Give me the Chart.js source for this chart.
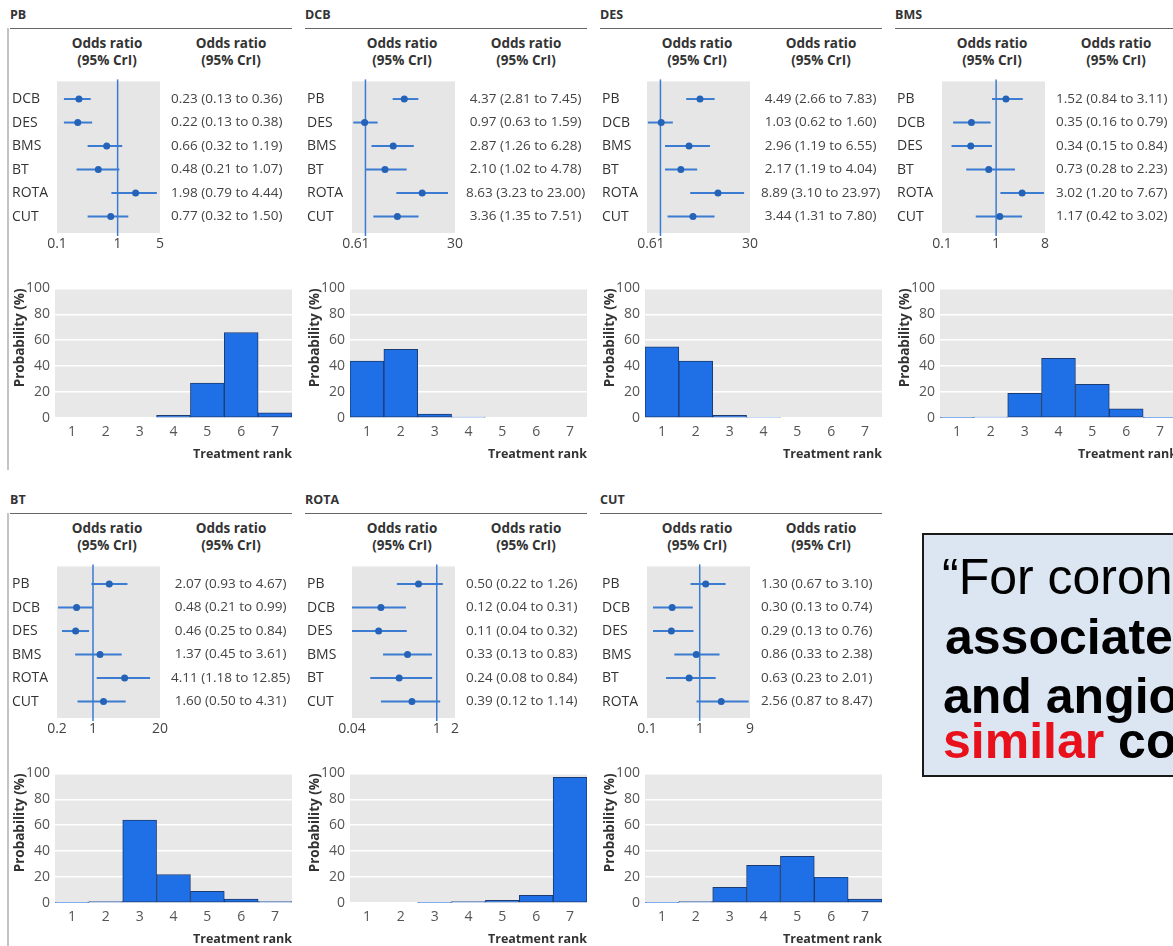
<!DOCTYPE html>
<html lang="en">
<head>
<meta charset="UTF-8">
<title>Odds ratios and rank probabilities</title>
<script src="https://cdn.jsdelivr.net/npm/chart.js"></script>
<style>
  html, body { margin: 0; padding: 0; background: #fff; overflow: hidden; }
  body { width: 1173px; height: 946px; position: relative; font-family: "Open Sans", sans-serif; color: #333; }
  .title { position: absolute; font-weight: 700; font-size: 12.5px; line-height: 17px; color: #333; }
  .rule { position: absolute; width: 282px; height: 0; border-top: 1.5px solid #666; }
  .head { position: absolute; width: 130px; text-align: center; font-weight: 700; font-size: 13.5px; line-height: 17px; color: #333; }
  .edge { position: absolute; left: 7px; width: 0; border-left: 2px solid #c4c4c4; }
  canvas { position: absolute; }
  .box { position: absolute; left: 922px; top: 533px; width: 400px; height: 240px; background: #dce6f2; border: 2px solid #1a1a1a; }
  .quote { position: absolute; left: 942px; white-space: nowrap; font-family: "Liberation Sans", Arial, sans-serif; font-size: 50px; line-height: 50px; color: #000; }
  .quote b { font-weight: 700; }
  .red { color: #e8101a; }
</style>
</head>
<body>
<div class="edge" style="top:28px;height:442px"></div>
<div class="edge" style="top:513px;height:433px"></div>

<div class="box"></div>
<div class="quote" style="top:552px">“For coronary</div>
<div class="quote" style="top:612px;left:945px"><b>associated</b></div>
<div class="quote" style="top:671px;left:943px"><b>and angiographic</b></div>
<div class="quote" style="top:716px;left:943px"><b><span class="red">similar</span> co</b></div>

<script>
// treatments, in panel order
const treatments = ['PB', 'DCB', 'DES', 'BMS', 'BT', 'ROTA', 'CUT'];
const rankLabels = ['1', '2', '3', '4', '5', '6', '7'];

// PB vs others
const pbRows = ['DCB', 'DES', 'BMS', 'BT', 'ROTA', 'CUT'];
const pbOR = [0.23, 0.22, 0.66, 0.48, 1.98, 0.77];
const pbLo = [0.13, 0.13, 0.32, 0.21, 0.79, 0.32];
const pbHi = [0.36, 0.38, 1.19, 1.07, 4.44, 1.50];
const pbAxis = [0.1, 1, 5];
const pbRank = [0, 0, 0, 2, 27, 66, 4];

// DCB
const dcbRows = ['PB', 'DES', 'BMS', 'BT', 'ROTA', 'CUT'];
const dcbOR = [4.37, 0.97, 2.87, 2.10, 8.63, 3.36];
const dcbLo = [2.81, 0.63, 1.26, 1.02, 3.23, 1.35];
const dcbHi = [7.45, 1.59, 6.28, 4.78, 23.00, 7.51];
const dcbAxis = [0.6, 1, 30];
const dcbRank = [44, 53, 3, 0.8, 0, 0, 0];

// DES
const desRows = ['PB', 'DCB', 'BMS', 'BT', 'ROTA', 'CUT'];
const desOR = [4.49, 1.03, 2.96, 2.17, 8.89, 3.44];
const desLo = [2.66, 0.62, 1.19, 1.19, 3.10, 1.31];
const desHi = [7.83, 1.60, 6.55, 4.04, 23.97, 7.80];
const desAxis = [0.6, 1, 30];
const desRank = [55, 44, 2, 0.6, 0, 0, 0];

// BMS
const bmsRows = ['PB', 'DCB', 'DES', 'BT', 'ROTA', 'CUT'];
const bmsOR = [1.52, 0.35, 0.34, 0.73, 3.02, 1.17];
const bmsLo = [0.84, 0.16, 0.15, 0.28, 1.20, 0.42];
const bmsHi = [3.11, 0.79, 0.84, 2.23, 7.67, 3.02];
const bmsAxis = [0.1, 1, 8];
const bmsRank = [0.4, 0.8, 19, 46, 26, 7, 0.5];

// BT
const btRows = ['PB', 'DCB', 'DES', 'BMS', 'ROTA', 'CUT'];
const btOR = [2.07, 0.48, 0.46, 1.37, 4.11, 1.60];
const btLo = [0.93, 0.21, 0.25, 0.45, 1.18, 0.50];
const btHi = [4.67, 0.99, 0.84, 3.61, 12.85, 4.31];
const btAxis = [0.2, 1, 20];
const btRank = [0.4, 1, 64, 22, 9, 3, 1];

// ROTA
const rotaRows = ['PB', 'DCB', 'DES', 'BMS', 'BT', 'CUT'];
const rotaOR = [0.50, 0.12, 0.11, 0.33, 0.24, 0.39];
const rotaLo = [0.22, 0.04, 0.04, 0.13, 0.08, 0.12];
const rotaHi = [1.26, 0.31, 0.32, 0.83, 0.84, 1.14];
const rotaAxis = [0.04, 1, 2];
const rotaRank = [0, 0, 0.5, 1, 2, 6, 97];

// CUT
const cutRows = ['PB', 'DCB', 'DES', 'BMS', 'BT', 'ROTA'];
const cutOR = [1.30, 0.30, 0.29, 0.86, 0.63, 2.56];
const cutLo = [0.67, 0.13, 0.13, 0.33, 0.23, 0.87];
const cutHi = [3.10, 0.74, 0.76, 2.38, 2.01, 8.47];
const cutAxis = [0.1, 1, 9];
const cutRank = [0.4, 1, 12, 29, 36, 20, 3];

const panels = [
  { rows: pbRows, or: pbOR, lo: pbLo, hi: pbHi, axis: pbAxis, rank: pbRank },
  { rows: dcbRows, or: dcbOR, lo: dcbLo, hi: dcbHi, axis: dcbAxis, rank: dcbRank },
  { rows: desRows, or: desOR, lo: desLo, hi: desHi, axis: desAxis, rank: desRank },
  { rows: bmsRows, or: bmsOR, lo: bmsLo, hi: bmsHi, axis: bmsAxis, rank: bmsRank },
  { rows: btRows, or: btOR, lo: btLo, hi: btHi, axis: btAxis, rank: btRank },
  { rows: rotaRows, or: rotaOR, lo: rotaLo, hi: rotaHi, axis: rotaAxis, rank: rotaRank },
  { rows: cutRows, or: cutOR, lo: cutLo, hi: cutHi, axis: cutAxis, rank: cutRank }
];

Chart.defaults.font.family = '"Open Sans", sans-serif';

const BLUE = '#3b7bd2';

function grayBg(color) {
  return {
    id: 'grayBg',
    beforeDraw(chart) {
      const a = chart.chartArea, ctx = chart.ctx;
      ctx.save();
      ctx.fillStyle = color;
      ctx.fillRect(a.left, a.top, a.right - a.left, a.bottom - a.top);
      ctx.restore();
    }
  };
}

// reference line at OR = 1 and the credible interval whiskers
function forestLines(p) {
  return {
    id: 'forestLines',
    beforeDatasetsDraw(chart) {
      const x = chart.scales.x, y = chart.scales.y, a = chart.chartArea, ctx = chart.ctx;
      ctx.save();
      ctx.strokeStyle = BLUE;
      ctx.lineWidth = 1.5;
      const x1 = x.getPixelForValue(1);
      ctx.beginPath();
      ctx.moveTo(x1, a.top - 2);
      ctx.lineTo(x1, a.bottom + 3);
      ctx.stroke();
      ctx.lineWidth = 2;
      p.rows.forEach((r, i) => {
        const yy = y.getPixelForValue(i);
        ctx.beginPath();
        ctx.moveTo(x.getPixelForValue(p.lo[i]), yy);
        ctx.lineTo(x.getPixelForValue(p.hi[i]), yy);
        ctx.stroke();
      });
      ctx.restore();
    }
  };
}

function addDiv(cls, left, top, html) {
  const d = document.createElement('div');
  d.className = cls;
  d.style.left = left + 'px';
  d.style.top = top + 'px';
  d.innerHTML = html;
  document.body.appendChild(d);
  return d;
}

function addCanvas(left, top, w, h) {
  const c = document.createElement('canvas');
  c.width = w; c.height = h;
  c.style.left = left + 'px';
  c.style.top = top + 'px';
  c.style.width = w + 'px';
  c.style.height = h + 'px';
  document.body.appendChild(c);
  return c;
}

const fmt = v => v.toFixed(2);

panels.forEach((p, k) => {
  const left = 10 + 295 * (k < 4 ? k : k - 4);
  const top = k < 4 ? 0 : 485;

  addDiv('title', left, top + 6, treatments[k]);
  addDiv('rule', left, top + 28, '');
  addDiv('head', left + 97 - 65, top + 35, 'Odds ratio<br>(95% CrI)');
  addDiv('head', left + 221 - 65, top + 35, 'Odds ratio<br>(95% CrI)');

  const rowScale = {
    type: 'linear', reverse: true, min: -0.75, max: 5.7,
    border: { display: false },
    afterBuildTicks: s => { s.ticks = p.rows.map((r, i) => ({ value: i })); }
  };

  new Chart(addCanvas(left, top + 70, 288, 188), {
    type: 'scatter',
    data: {
      datasets: [{
        data: p.or.map((v, i) => ({ x: v, y: i })),
        pointRadius: 3.5,
        pointBackgroundColor: '#2563b8',
        pointBorderWidth: 0
      }]
    },
    options: {
      responsive: false,
      animation: false,
      layout: { padding: { top: 0, left: 2, right: 0, bottom: 0 } },
      plugins: { legend: { display: false }, tooltip: { enabled: false } },
      scales: {
        x: {
          type: 'logarithmic', min: p.axis[0], max: p.axis[2],
          grid: { display: false, drawTicks: false }, border: { display: false },
          afterBuildTicks: s => { s.ticks = p.axis.map(v => ({ value: v })); },
          afterFit: s => { s.height = 25; },
          ticks: { autoSkip: false, maxRotation: 0, padding: 3, color: '#444', font: { size: 14 }, callback: v => String(v) }
        },
        y: Object.assign({}, rowScale, {
          position: 'left',
          grid: { display: false, drawTicks: false },
          afterFit: s => { s.width = 45; },
          ticks: { crossAlign: 'far', color: '#333', font: { size: 14 }, callback: v => p.rows[v] }
        }),
        y2: Object.assign({}, rowScale, {
          position: 'right',
          grid: { display: false },
          afterFit: s => { s.width = 138; },
          ticks: { crossAlign: 'center', color: '#444', font: { size: 13.5 },
                   callback: v => fmt(p.or[v]) + ' (' + fmt(p.lo[v]) + ' to ' + fmt(p.hi[v]) + ')' }
        })
      }
    },
    plugins: [grayBg('#e6e6e6'), forestLines(p)]
  });

  new Chart(addCanvas(left, top + 275, 283, 190), {
    type: 'bar',
    data: {
      labels: rankLabels,
      datasets: [{
        data: p.rank,
        backgroundColor: '#1f6fe6',
        borderColor: '#1c3b70',
        borderWidth: 1,
        borderSkipped: false,
        barPercentage: 1,
        categoryPercentage: 1
      }]
    },
    options: {
      responsive: false,
      animation: false,
      layout: { padding: { top: 8, left: 2, right: 1, bottom: 0 } },
      plugins: { legend: { display: false }, tooltip: { enabled: false } },
      scales: {
        x: {
          grid: { display: false, drawTicks: false }, border: { display: false },
          afterFit: s => { s.height = 47; },
          ticks: { color: '#555', font: { size: 14 }, padding: 6 },
          title: { display: true, text: 'Treatment rank', align: 'end', color: '#333',
                   font: { size: 12.5, weight: 'bold' }, padding: { top: 4, bottom: 3 } }
        },
        y: {
          min: 0, max: 100,
          grid: { color: '#fff', lineWidth: 1.5, drawTicks: false }, border: { display: false },
          afterFit: s => { s.width = 43; },
          ticks: { stepSize: 20, color: '#555', font: { size: 14 }, padding: 5 },
          title: { display: true, text: 'Probability (%)', align: 'end', color: '#333',
                   font: { size: 13.5, weight: 'bold' }, padding: { top: 0, bottom: 0 } }
        }
      }
    },
    plugins: [grayBg('#e8e8e8')]
  });
});
</script>
</body>
</html>
